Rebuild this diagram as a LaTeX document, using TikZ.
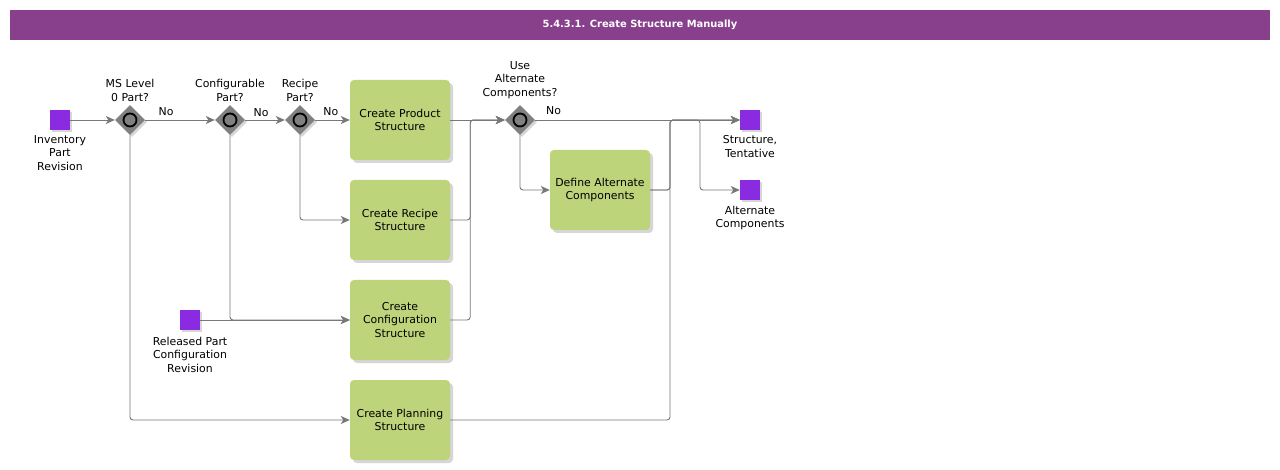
\documentclass[tikz,border=0pt]{standalone}
\usepackage{fontspec}
\setmainfont{DejaVu Sans}
\usetikzlibrary{shapes.geometric,arrows.meta,shadows}
\definecolor{titlebar}{RGB}{136,64,141}
\definecolor{taskgreen}{RGB}{189,212,123}
\definecolor{datapurple}{RGB}{138,43,226}
\definecolor{gwgray}{RGB}{128,128,128}
\definecolor{linegray}{RGB}{120,120,120}
\begin{document}
\begin{tikzpicture}[x=1pt,y=-1pt,
  font=\fontsize{10.9}{13.3}\selectfont,
  task/.style={fill=taskgreen, rounded corners=4pt, minimum width=100pt, minimum height=80pt,
    align=center, inner sep=0pt,
    drop shadow={shadow xshift=3pt,shadow yshift=-3pt,fill=black!16,opacity=1}},
  dataobj/.style={fill=datapurple, minimum size=20pt, inner sep=0pt,
    drop shadow={shadow xshift=2pt,shadow yshift=-2pt,fill=black!16,opacity=1}},
  gateway/.style={diamond, fill=gwgray, minimum width=30pt, minimum height=30pt, inner sep=0pt,
    drop shadow={shadow xshift=2pt,shadow yshift=-2pt,fill=black!16,opacity=1},
    path picture={\draw[line width=1.8pt,fill=gwgray] (path picture bounding box.center) circle (6.5pt);}},
  lbl/.style={align=center, inner sep=0pt},
  flow/.style={draw=linegray, line width=0.9pt, rounded corners=3pt, -{Stealth[length=9pt,width=8pt,inset=2.5pt]}},
  plain/.style={draw=linegray, line width=0.9pt, rounded corners=3pt}
]
\useasboundingbox (0,0) rectangle (1280,470);
\fill[white] (0,0) rectangle (1280,470);
% title
\node[fill=titlebar, minimum width=1260pt, minimum height=30pt, inner sep=0pt,
  text=white, font=\fontsize{9.9}{12}\selectfont\bfseries] (title) at (640,25) {5.4.3.1. Create Structure Manually};

% data objects
\node[dataobj] (inv) at (60,120) {};
\node[lbl, anchor=north] (invl) at (60,135.5) {Inventory\\Part\\Revision};
\node[dataobj] (rel) at (190,320) {};
\node[lbl, anchor=north] (rell) at (190,337) {Released Part\\Configuration\\Revision};
\node[dataobj] (st) at (750,120) {};
\node[lbl, anchor=north] (stl) at (750,135.5) {Structure,\\Tentative};
\node[dataobj] (alt) at (750,190) {};
\node[lbl, anchor=north] (altl) at (750,206) {Alternate\\Components};

% gateways
\node[gateway] (g1) at (130,120) {};
\node[lbl, anchor=south] (g1l) at (130,101.5) {MS Level\\0 Part?};
\node[gateway] (g2) at (230,120) {};
\node[lbl, anchor=south] (g2l) at (230,101.5) {Configurable\\Part?};
\node[gateway] (g3) at (300,120) {};
\node[lbl, anchor=south] (g3l) at (300,101.5) {Recipe\\Part?};
\node[gateway] (g4) at (520,120) {};
\node[lbl, anchor=south] (g4l) at (520,98.5) {Use\\Alternate\\Components?};

% tasks
\node[task] (prod) at (400,120) {Create Product\\Structure};
\node[task] (rec) at (400,220) {Create Recipe\\Structure};
\node[task] (conf) at (400,320) {Create\\Configuration\\Structure};
\node[task] (plan) at (400,420) {Create Planning\\Structure};
\node[task] (def) at (600,190) {Define Alternate\\Components};

% merge points
\coordinate (m1) at (670,120);
\coordinate (m2) at (700,120);

% connectors
\draw[flow] (inv) -- (g1);
\draw[flow] (g1) -- node[lbl, pos=0.3, yshift=8pt] (no1) {No} (g2);
\draw[flow] (g2) -- node[lbl, pos=0.4, yshift=7pt] (no2) {No} (g3);
\draw[flow] (g3) -- node[lbl, pos=0.45, yshift=8pt] (no3) {No} (prod);
\draw[flow] (g1.south) |- (plan.west);
\draw[flow] (g2.south) |- (conf.west);
\draw[flow] (g3.south) |- (rec.west);
\draw[flow] (rel.east) -- (conf.west);
\draw[flow] (prod.east) -- (g4.west);
\draw[flow] (rec.east) -- ++(20,0) |- (g4.west);
\draw[flow] (conf.east) -- ++(20,0) |- (g4.west);
\draw[flow] (g4.east) -- node[lbl, pos=0.09, yshift=9pt] (no4) {No} (st.west);
\draw[flow] (g4.south) |- (def.west);
\draw[flow] (def.east) -| (m1) -- (st.west);
\draw[flow] (def.east) -| (m1) -- (m2) |- (alt.west);
\draw[flow] (plan.east) -| (m1) -- (st.west);
\end{tikzpicture}
\end{document}
